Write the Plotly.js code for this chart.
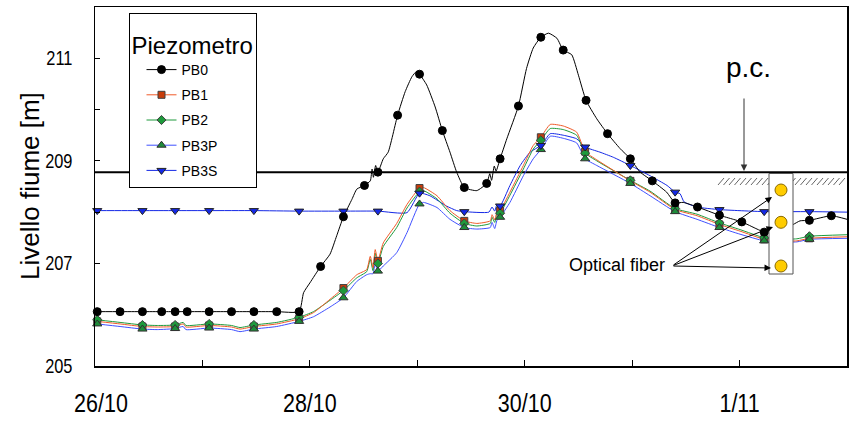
<!DOCTYPE html>
<html><head><meta charset="utf-8">
<script src="https://cdn.plot.ly/plotly-3.0.1.min.js"></script>
<style>html,body{margin:0;padding:0;background:#fff;}#chart{width:852px;height:421px;}</style>
</head><body><div id="chart"></div>
<script>
// ---- axis ticks ----
const dayTickHours = [0, 24, 48, 72, 96, 120, 144, 168];
const dayTickLabels = ['\u00a0\u00a026/10', '', '28/10', '', '30/10', '', '1/11', ''];
const levelTickVals = [205, 206, 207, 208, 209, 210, 211];
const levelTickLabels = ['205', '', '207', '', '209', '', '211'];
const yAxisTitle = 'Livello fiume [m]';
const legendTitle = 'Piezometro';

// ---- series names ----
const seriesNames = ['PB0', 'PB1', 'PB2', 'PB3P', 'PB3S'];

// ---- PB0 (hours since 26/10 00:00, level m) ----
const pb0Hours = [0.5,5.6,10.6,14.9,17.9,20.6,25.5,30.5,35.5,40.6,45.6,46.6,48.0,50.4,52.5,54.0,55.5,57.4,58.5,60.2,61.5,61.9,62.2,62.7,63.2,64.4,65.5,67.6,69.3,70.8,71.8,72.5,74.1,76.0,77.6,79.3,80.8,82.5,85.3,87.5,88.2,88.6,89.2,89.6,90.5,92.0,94.6,96.4,97.9,99.6,101.3,103.2,104.6,106.5,108.0,109.7,112.1,114.5,117.3,119.6,121.8,124.5,127.7,129.6,131.4,134.6,139.5,142.6,144.5,147.9,149.5,152.0,156.0,157.5,159.6,164.5,168];
const pb0Level = [206.06,206.06,206.06,206.06,206.06,206.06,206.06,206.06,206.06,206.06,206.06,206.43,206.62,206.94,207.18,207.54,207.91,208.25,208.45,208.52,208.61,208.84,208.68,208.91,208.78,209.04,209.17,209.89,210.35,210.64,210.74,210.69,210.48,210.05,209.59,209.17,208.78,208.48,208.42,208.56,208.75,208.62,208.90,208.80,209.04,209.43,210.07,210.80,211.20,211.41,211.49,211.39,211.16,211.07,210.67,210.18,209.82,209.53,209.24,209.04,208.78,208.61,208.39,208.18,208.19,208.10,207.94,207.86,207.81,207.67,207.61,207.58,207.76,207.83,207.84,207.93,207.86];
const pb0MarkerHours = [0.5,5.6,10.6,14.9,17.9,20.6,25.5,30.5,35.5,40.6,45.6,50.4,55.5,60.2,63.2,67.6,72.5,77.6,82.5,87.5,90.5,94.6,99.6,104.6,109.7,114.5,119.6,124.5,129.6,134.6,139.5,144.5,149.5,159.6,164.5];

// ---- PB1 / PB2 / PB3P share a time grid ----
const groupHours = [0.5,5.6,10.6,13.9,17.9,19.7,20.3,25.5,30.5,32.4,35.5,40.6,45.6,48.8,52.5,55.5,58.5,60.7,61.5,62.1,62.6,63.2,64.4,67.4,69.7,72.5,73.4,76.4,79.3,82.5,85.3,88.3,88.7,89.3,89.8,90.5,92.7,95.7,97.9,99.6,101.7,104.6,107.6,109.5,112.1,119.6,124.0,129.6,134.5,139.5,144.1,149.5,153.1,156.8,159.6,168];
const pb1Level = [205.87,205.82,205.77,205.76,205.77,205.82,205.76,205.79,205.76,205.72,205.77,205.82,205.92,206.04,206.30,206.52,206.78,206.88,207.14,206.92,207.27,207.05,207.40,207.78,208.15,208.47,208.48,208.32,208.03,207.83,207.78,207.83,207.95,207.85,208.00,208.03,208.39,208.91,209.30,209.46,209.71,209.68,209.56,209.18,209.02,208.61,208.39,208.05,207.93,207.76,207.63,207.47,207.44,207.44,207.49,207.52];
const pb2Level = [205.90,205.85,205.80,205.79,205.80,205.85,205.79,205.82,205.79,205.75,205.80,205.85,205.95,206.06,206.28,206.47,206.72,206.84,207.08,206.86,207.20,207.00,207.33,207.70,208.08,208.40,208.42,208.26,207.98,207.78,207.73,207.78,207.90,207.80,207.95,207.98,208.33,208.84,209.23,209.40,209.63,209.61,209.50,209.15,209.00,208.62,208.41,208.07,207.96,207.79,207.66,207.50,207.47,207.48,207.53,207.56];
const pb3pLevel = [205.82,205.77,205.72,205.71,205.73,205.77,205.71,205.74,205.71,205.67,205.72,205.77,205.87,205.96,206.15,206.33,206.65,206.78,206.80,206.80,206.99,206.85,206.95,207.21,207.60,208.16,208.19,208.09,207.86,207.70,207.67,207.70,207.80,207.68,207.84,207.90,208.19,208.71,209.04,209.22,209.48,209.44,209.35,209.04,208.91,208.56,208.32,208.01,207.86,207.70,207.57,207.44,207.42,207.42,207.47,207.49];
const groupMarkerHours = [0.5,10.6,17.9,25.5,35.5,45.6,55.5,63.2,72.5,82.5,90.5,99.6,109.5,119.6,129.6,139.5,149.5,159.6];

// ---- PB3S ----
const pb3sHours = [0.5,10.6,17.9,25.5,35.5,45.6,55.5,63.2,69.7,72.5,74.8,78.5,80.8,82.5,88.0,88.7,89.3,89.8,90.5,92.7,95.0,97.2,99.6,101.7,104.6,107.6,109.5,112.8,115.8,119.6,124.0,127.8,129.6,130.7,131.6,134.5,139.5,149.5,159.6,168];
const pb3sLevel = [208.03,208.03,208.03,208.03,208.03,208.02,208.02,208.02,207.99,208.37,208.32,208.12,208.03,208.01,208.00,208.10,208.02,208.15,208.12,208.52,208.91,209.17,209.30,209.53,209.50,209.43,209.27,209.17,209.07,208.91,208.71,208.52,208.39,208.36,208.20,208.10,208.05,208.01,208.01,208.00];
const pb3sMarkerHours = [0.5,10.6,17.9,25.5,35.5,45.6,55.5,63.2,72.5,82.5,90.5,99.6,109.5,119.6,129.6,139.5,149.5,159.6];

// ---- reference level (piano campagna) ----
const groundLevel = [208.78];

// ---------------------------------------------------
const pick = (hrs, vals, mh) => mh.map(h => vals[hrs.indexOf(h)]);

const styles = {
  PB0:  {line: {color: '#000000', width: 1}, marker: {symbol: 'circle', size: 8, color: '#000000', line: {color: '#000', width: 1}}},
  PB1:  {line: {color: '#f05a28', width: 1}, marker: {symbol: 'square', size: 7, color: '#c83c0a', line: {color: '#404040', width: 1}}},
  PB2:  {line: {color: '#1e9a3c', width: 1}, marker: {symbol: 'diamond', size: 7, color: '#1e9a3c', line: {color: '#404040', width: 1}}},
  PB3P: {line: {color: '#3f50ff', width: 1}, marker: {symbol: 'triangle-up', size: 8, color: '#1e8c3a', line: {color: '#303030', width: 1}}},
  PB3S: {line: {color: '#1428e6', width: 1}, marker: {symbol: 'triangle-down', size: 8, color: '#1428e6', line: {color: '#202020', width: 1}}}
};

const lineData = {
  PB0: [pb0Hours, pb0Level], PB1: [groupHours, pb1Level], PB2: [groupHours, pb2Level],
  PB3P: [groupHours, pb3pLevel], PB3S: [pb3sHours, pb3sLevel]
};
const markerData = {
  PB0: [pb0MarkerHours, pick(pb0Hours, pb0Level, pb0MarkerHours)],
  PB1: [groupMarkerHours, pick(groupHours, pb1Level, groupMarkerHours)],
  PB2: [groupMarkerHours, pick(groupHours, pb2Level, groupMarkerHours)],
  PB3P: [groupMarkerHours, pick(groupHours, pb3pLevel, groupMarkerHours)],
  PB3S: [pb3sMarkerHours, pick(pb3sHours, pb3sLevel, pb3sMarkerHours)]
};

const traces = [];
// legend entries
seriesNames.forEach(n => traces.push({
  type: 'scatter', mode: 'lines+markers', x: [null], y: [null], name: n,
  legendgroup: n, showlegend: true, line: styles[n].line, marker: styles[n].marker, hoverinfo: 'skip'
}));
// lines
['PB3S', 'PB3P', 'PB2', 'PB1', 'PB0'].forEach(n => traces.push({
  type: 'scatter', mode: 'lines', x: lineData[n][0], y: lineData[n][1], name: n,
  legendgroup: n, showlegend: false, line: Object.assign({shape: 'spline', smoothing: 0.5}, styles[n].line)
}));
// markers
['PB1', 'PB2', 'PB3P', 'PB3S', 'PB0'].forEach(n => traces.push({
  type: 'scatter', mode: 'markers', x: markerData[n][0], y: markerData[n][1], name: n,
  legendgroup: n, showlegend: false, marker: styles[n].marker, cliponaxis: false
}));

// pixel -> paper helpers for decorations
const PL = 95, PT = 7, PW = 752, PH = 359;
const px = v => (v - PL) / PW;
const py = v => 1 - (v - PT) / PH;

// hatch under ground line
let hatch = '';
for (let xx = 718; xx <= 842; xx += 5.5) {
  hatch += `M${px(xx)},${py(185)} L${px(xx + 6)},${py(178)} `;
}

const shapes = [
  {type: 'line', xref: 'paper', yref: 'y', x0: 0, x1: 1, y0: groundLevel[0], y1: groundLevel[0], line: {color: '#000', width: 2}, layer: 'below'},
  {type: 'path', xref: 'paper', yref: 'paper', path: hatch, line: {color: '#666', width: 1}, layer: 'above'},
  {type: 'rect', xref: 'paper', yref: 'paper', x0: px(769), x1: px(793), y0: py(274), y1: py(173.5), fillcolor: '#fff', line: {color: '#555', width: 1}, layer: 'above'}
];
[190, 222.3, 266].forEach(cy => shapes.push({
  type: 'circle', xref: 'paper', yref: 'paper', x0: px(775), x1: px(787), y0: py(cy + 6), y1: py(cy - 6),
  fillcolor: '#ffcc00', line: {color: '#8a6a00', width: 1}, layer: 'above'
}));

const sans = 'Liberation Sans, Arial, sans-serif';
const annFont = {family: sans, color: '#000'};
const arrowBase = {xref: 'paper', yref: 'paper', text: '', showarrow: true, arrowhead: 2, arrowsize: 1.3, arrowwidth: 1, standoff: 0};
const annotations = [
  {xref: 'paper', yref: 'paper', x: px(748), y: py(67), xanchor: 'center', yanchor: 'middle', text: 'p.c.', showarrow: false, font: Object.assign({size: 28}, annFont)},
  Object.assign({x: px(744), y: py(171), ax: 0, ay: -74, arrowcolor: '#333'}, arrowBase),
  {xref: 'paper', yref: 'paper', x: px(617), y: py(265), xanchor: 'center', yanchor: 'middle', text: 'Optical fiber', showarrow: false, font: Object.assign({size: 18}, annFont)},
  Object.assign({x: px(772), y: py(197), ax: -100, ay: 69, arrowcolor: '#000'}, arrowBase),
  Object.assign({x: px(773), y: py(227), ax: -101, ay: 39, arrowcolor: '#000'}, arrowBase),
  Object.assign({x: px(771), y: py(268), ax: -99, ay: -2, arrowcolor: '#000'}, arrowBase),
  {xref: 'paper', yref: 'paper', x: px(30), y: py(186), xanchor: 'center', yanchor: 'middle', textangle: -90, text: yAxisTitle, showarrow: false, font: Object.assign({size: 26}, annFont)}
];

const layout = {
  width: 852, height: 421,
  margin: {l: PL, r: 852 - PL - PW, t: PT, b: 421 - PT - PH},
  paper_bgcolor: '#fff', plot_bgcolor: '#fff',
  font: {family: sans, color: '#000'},
  showlegend: true,
  xaxis: {
    range: [0, 168], tickmode: 'array', tickvals: dayTickHours, ticktext: dayTickLabels,
    ticks: 'inside', ticklen: 6, tickcolor: '#000', tickwidth: 1,
    showline: true, linecolor: '#000', linewidth: 1.5, mirror: true,
    showgrid: false, zeroline: false,
    tickfont: {family: sans, size: 25, color: '#000'}, ticklabelstandoff: 15
  },
  yaxis: {
    range: [205, 212], tickmode: 'array', tickvals: levelTickVals, ticktext: levelTickLabels,
    ticks: 'inside', ticklen: 5, tickcolor: '#000', tickwidth: 1,
    showline: true, linecolor: '#000', linewidth: 1.5, mirror: true,
    showgrid: false, zeroline: false,
    tickfont: {family: sans, size: 20, color: '#000'}, ticklabelstandoff: 17
  },
  legend: {
    x: px(128.5), y: py(12.7), xanchor: 'left', yanchor: 'top',
    bgcolor: '#fff', bordercolor: '#000', borderwidth: 1,
    font: {size: 14, family: sans}, indentation: 12,
    title: {text: '<span style="font-size:24px">' + legendTitle + '</span>', font: {size: 31}, side: 'top'},
    traceorder: 'grouped', tracegroupgap: 4, itemclick: false
  },
  shapes: shapes,
  annotations: annotations
};

// condense tick labels horizontally (the reference uses a narrow face)
function condense(sel, sx) {
  document.querySelectorAll(sel).forEach(t => {
    const x = parseFloat(t.getAttribute('x')) || 0;
    const y = parseFloat(t.getAttribute('y')) || 0;
    const tr = t.getAttribute('transform') || '';
    t.setAttribute('transform', `${tr} translate(${x},${y}) scale(${sx},1) translate(${-x},${-y})`);
  });
}

Plotly.newPlot('chart', traces, layout, {displayModeBar: false, staticPlot: true}).then(() => {
  condense('#chart .xtick text', 0.86);
  condense('#chart .ytick text', 0.82);
});
</script></body></html>
